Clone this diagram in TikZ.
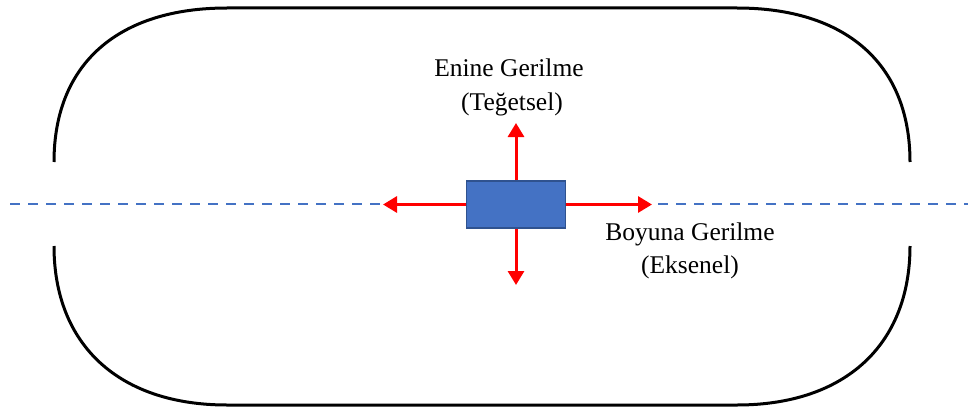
\documentclass[tikz,border=0pt]{standalone}
\usepackage{fontspec}
\setmainfont{Liberation Serif}
\usetikzlibrary{arrows.meta}
\definecolor{pblue}{HTML}{4472C4}
\definecolor{pblueborder}{HTML}{2F528F}
\definecolor{pred}{HTML}{FF0000}
\tikzset{
  outline/.style={line width=3pt,black},
  axisline/.style={line width=2.4pt,pblue,dash pattern=on 10pt off 8pt},
  stressarrow/.style={line width=3pt,pred,-{Triangle[width=16pt,length=14pt]}},
  element/.style={draw=pblueborder,fill=pblue,line width=1.5pt,minimum width=99pt,minimum height=47pt,inner sep=0pt},
  lbl/.style={font=\fontsize{25.5}{34}\selectfont,inner sep=0pt,anchor=base}
}
\begin{document}
\begin{tikzpicture}[x=1pt,y=-1pt]
\useasboundingbox (0,0) rectangle (968,412);
% axis
\coordinate (axL) at (10,204);
\coordinate (axR) at (968,204);
\draw[axisline] (axL) -- (axR);
% vessel outline
\draw[outline] (54,162) .. controls (54,63) and (119,8) .. (227,8) -- (737,8)
  .. controls (845,8) and (910,63) .. (910,162);
\draw[outline] (54,246) .. controls (54,345) and (119,405) .. (227,405) -- (737,405)
  .. controls (845,405) and (910,345) .. (910,246);
% element
\node[element] (box) at (516,204.5) {};
\coordinate (tU) at (516,123);
\coordinate (tD) at (516,285);
\coordinate (tL) at (383,204.5);
\coordinate (tR) at (652,204.5);
\draw[stressarrow] (box.north) -- (tU);
\draw[stressarrow] (box.south) -- (tD);
\draw[stressarrow] (box.west) -- (tL);
\draw[stressarrow] (box.east) -- (tR);
% labels
\node[lbl] (enine) at (509,77) {Enine Gerilme};
\node[lbl] (teget) at (512,110) {(Teğetsel)};
\node[lbl] (boyuna) at (690,240) {Boyuna Gerilme};
\node[lbl] (eksen) at (690,273) {(Eksenel)};
\end{tikzpicture}
\end{document}
